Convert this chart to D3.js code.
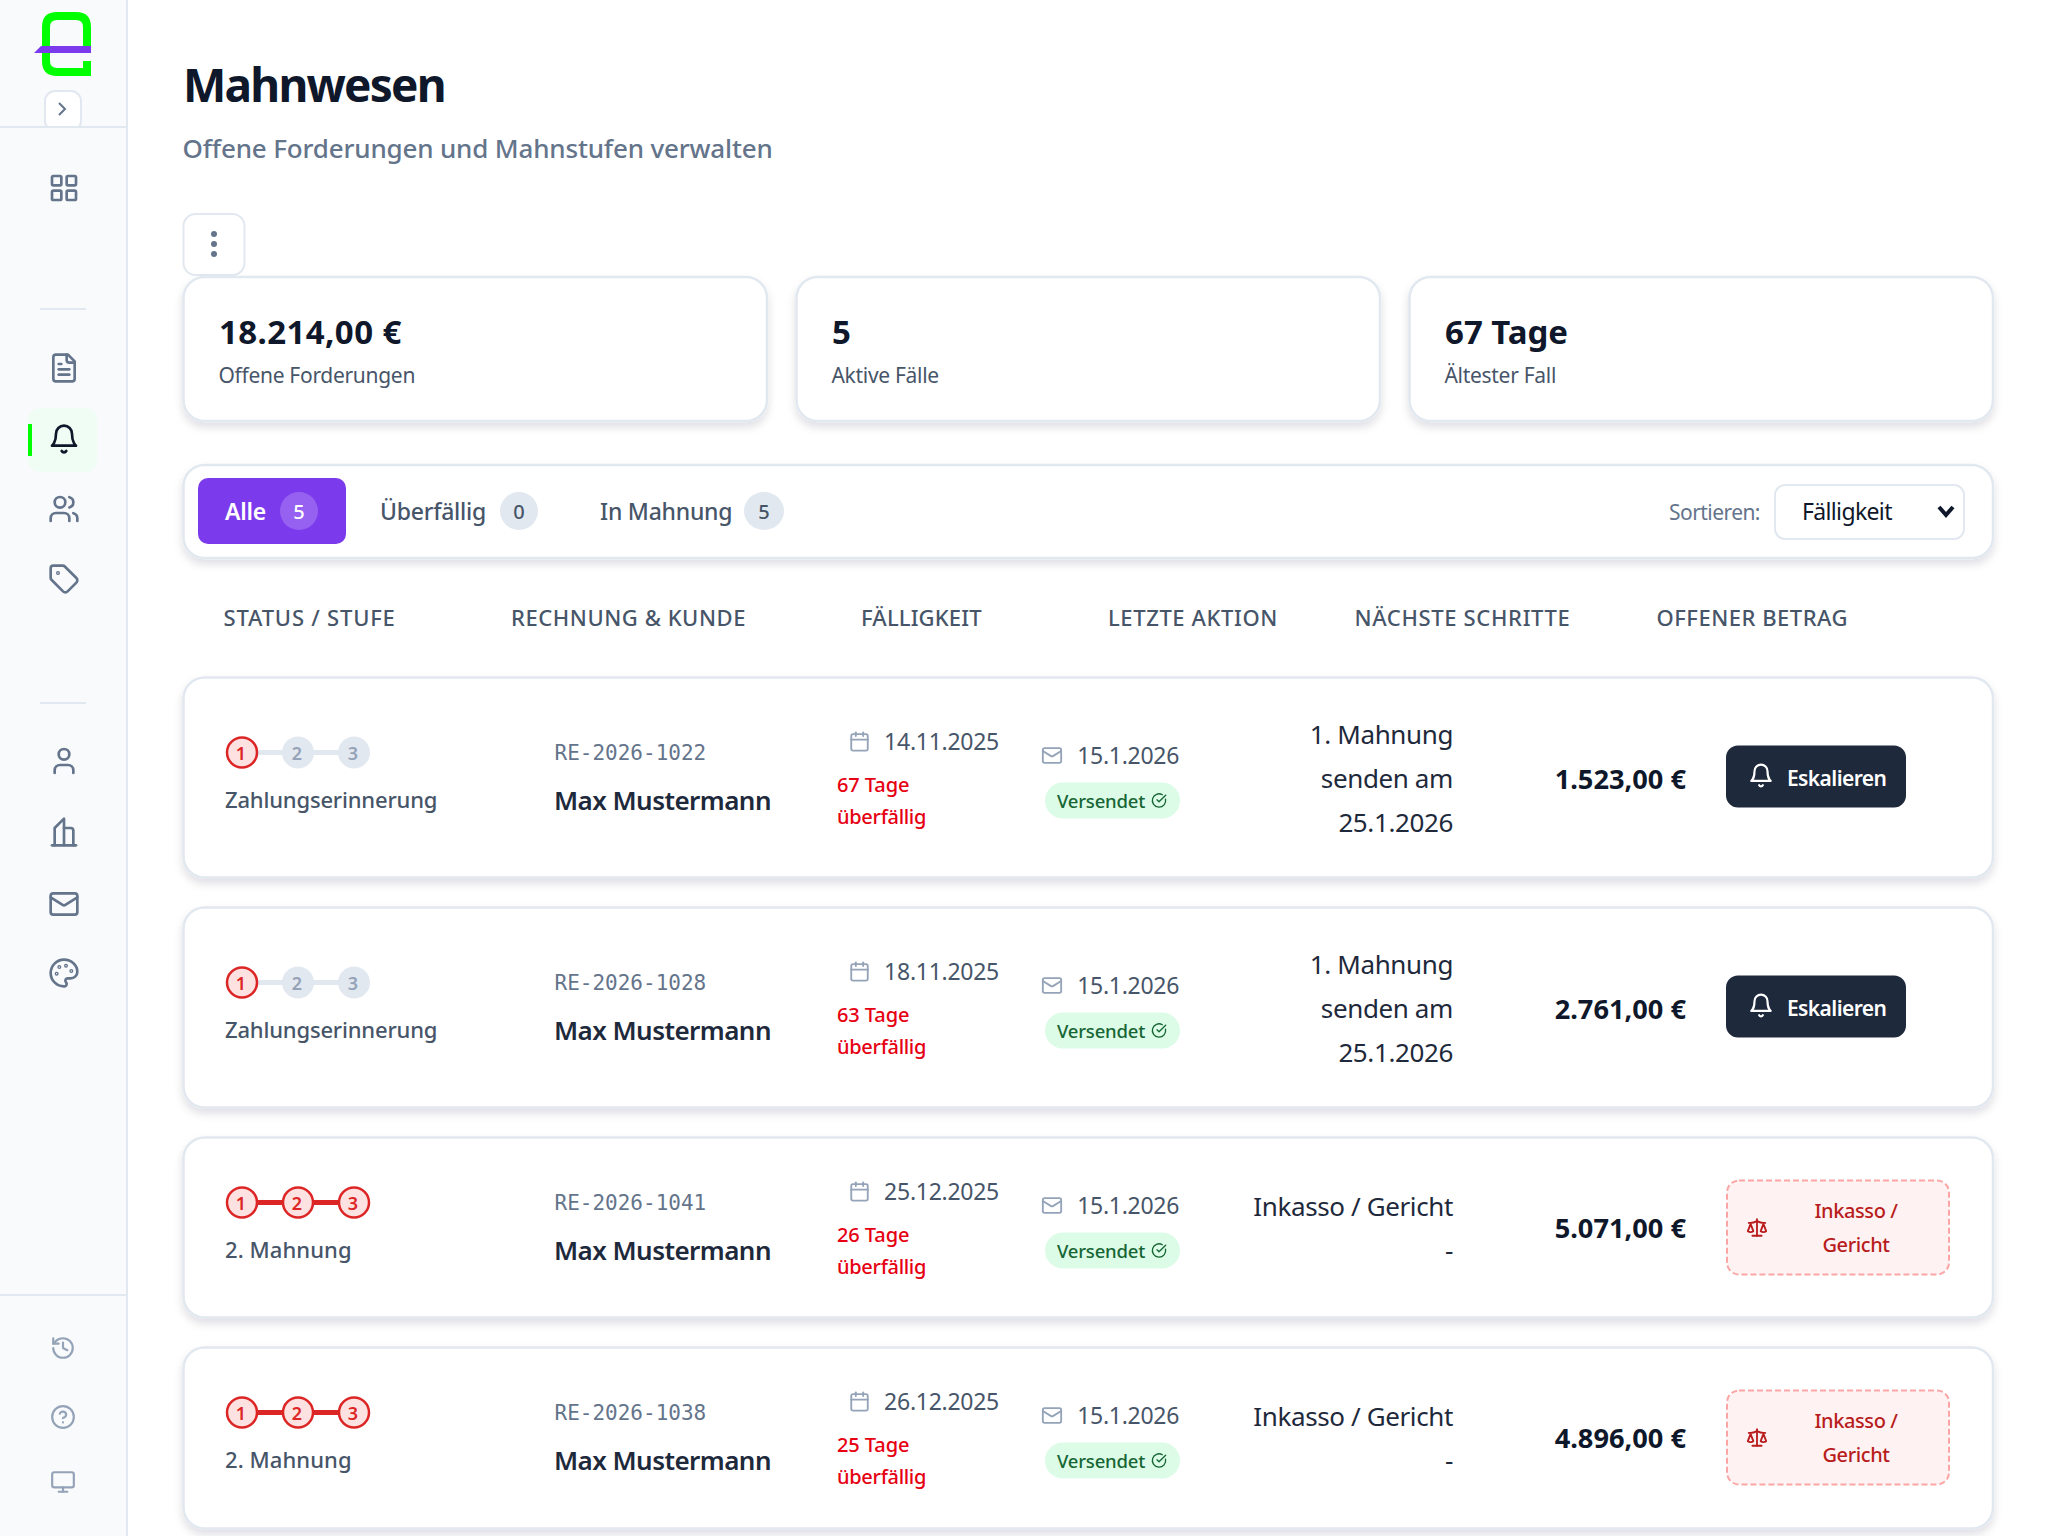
<!DOCTYPE html>
<html>
<head>
<meta charset="utf-8">
<script src="https://cdn.jsdelivr.net/npm/d3@7/dist/d3.min.js"></script>
<style>
  html, body { margin: 0; padding: 0; background: #fff; }
  svg { display: block; font-family: "Noto Sans", sans-serif; }
</style>
</head>
<body>
<script>
// page text and values
var title = "Mahnwesen";
var subtitle = "Offene Forderungen und Mahnstufen verwalten";
var kpiValues = ["18.214,00 €", "5", "67 Tage"];
var kpiLabels = ["Offene Forderungen", "Aktive Fälle", "Ältester Fall"];
var tabLabels = ["Alle", "Überfällig", "In Mahnung"];
var tabCounts = [5, 0, 5];
var columns = ["STATUS / STUFE", "RECHNUNG & KUNDE", "FÄLLIGKEIT", "LETZTE AKTION", "NÄCHSTE SCHRITTE", "OFFENER BETRAG"];

// one entry per case
var stageSteps = [1, 1, 3, 3];
var stageLabels = ["Zahlungserinnerung", "Zahlungserinnerung", "2. Mahnung", "2. Mahnung"];
var invoices = ["RE-2026-1022", "RE-2026-1028", "RE-2026-1041", "RE-2026-1038"];
var customers = ["Max Mustermann", "Max Mustermann", "Max Mustermann", "Max Mustermann"];
var dueDates = ["14.11.2025", "18.11.2025", "25.12.2025", "26.12.2025"];
var overdueDays = [67, 63, 26, 25];
var lastActions = ["15.1.2026", "15.1.2026", "15.1.2026", "15.1.2026"];
var nextSteps = [
  ["1. Mahnung", "senden am", "25.1.2026"],
  ["1. Mahnung", "senden am", "25.1.2026"],
  ["Inkasso / Gericht", "-"],
  ["Inkasso / Gericht", "-"]
];
var amounts = ["1.523,00 €", "2.761,00 €", "5.071,00 €", "4.896,00 €"];

var icons = {
  grid: ["R3,3,7,7,1", "R14,3,7,7,1", "R14,14,7,7,1", "R3,14,7,7,1"],
  doc: ["M15 2H6a2 2 0 0 0-2 2v16a2 2 0 0 0 2 2h12a2 2 0 0 0 2-2V7Z", "M14 2v4a2 2 0 0 0 2 2h4", "M10 9H8", "M16 13H8", "M16 17H8"],
  bell: ["M6 8a6 6 0 0 1 12 0c0 7 3 9 3 9H3s3-2 3-9", "M10.3 21a1.94 1.94 0 0 0 3.4 0"],
  users: ["M16 21v-2a4 4 0 0 0-4-4H6a4 4 0 0 0-4 4v2", "C9,7,4", "M22 21v-2a4 4 0 0 0-3-3.87", "M16 3.13a4 4 0 0 1 0 7.75"],
  tag: ["M12.586 2.586A2 2 0 0 0 11.172 2H4a2 2 0 0 0-2 2v7.172a2 2 0 0 0 .586 1.414l8.704 8.704a2.426 2.426 0 0 0 3.42 0l6.58-6.58a2.426 2.426 0 0 0 0-3.42z", "C7.5,7.5,.5"],
  user: ["M19 21v-2a4 4 0 0 0-4-4H9a4 4 0 0 0-4 4v2", "C12,7,4"],
  building: ["M3 22h18", "M5 22V9l7-7v20", "M12 9h5a2 2 0 0 1 2 2v11"],
  mail: ["R2,4,20,16,2", "m22 7-8.97 5.7a1.94 1.94 0 0 1-2.06 0L2 7"],
  palette: ["M12 22a1 1 0 0 1 0-20 10 9 0 0 1 10 9 5 5 0 0 1-5 5h-2.25a1.75 1.75 0 0 0-1.4 2.8l.3.4a1.75 1.75 0 0 1-1.4 2.8z", "C13.5,6.5,.5", "C17.5,10.5,.5", "C6.5,12.5,.5", "C8.5,7.5,.5"],
  history: ["M3 12a9 9 0 1 0 9-9 9.75 9.75 0 0 0-6.74 2.74L3 8", "M3 3v5h5", "M12 7v5l4 2"],
  help: ["C12,12,10", "M9.09 9a3 3 0 0 1 5.83 1c0 2-3 3-3 3", "M12 17h.01"],
  monitor: ["R2,3,20,14,2", "M8 21h8", "M12 17v4"],
  calendar: ["M8 2v4", "M16 2v4", "R3,4,18,18,2", "M3 10h18"],
  check: ["M21.801 10A10 10 0 1 1 17 3.335", "m9 11 3 3L22 4"],
  scale: ["m16 16 3-8 3 8c-.87.65-1.92 1-3 1s-2.13-.35-3-1Z", "m2 16 3-8 3 8c-.87.65-1.92 1-3 1s-2.13-.35-3-1Z", "M7 21h10", "M12 3v18", "M3 7h2c2 0 5-1 7-2 2 1 5 2 7 2h2"]
};

var navTop = ["grid", "doc", "bell", "users", "tag", "user", "building", "mail", "palette"];
var navTopY = [188, 368, 439, 509, 579, 761, 832, 904, 973];
var navBottom = ["history", "help", "monitor"];
var navBottomY = [1348, 1417, 1482];

var w = 2048, h = 1536;
var svg = d3.select("body").append("svg").attr("width", w).attr("height", h);

var defs = svg.append("defs");
var shadow = defs.append("filter").attr("id", "shadow")
  .attr("x", "-5%").attr("y", "-10%").attr("width", "110%").attr("height", "130%");
shadow.append("feDropShadow").attr("dx", 0).attr("dy", 5).attr("stdDeviation", 4)
  .attr("flood-color", "#0f172a").attr("flood-opacity", 0.13);

function icon(parent, name, cx, cy, size, color, sw) {
  var g = parent.append("g")
    .attr("transform", "translate(" + (cx - size / 2) + "," + (cy - size / 2) + ") scale(" + size / 24 + ")")
    .attr("fill", "none").attr("stroke", color).attr("stroke-width", sw)
    .attr("stroke-linecap", "round").attr("stroke-linejoin", "round");
  icons[name].forEach(function (s) {
    var p = s.slice(1).split(",").map(Number);
    if (s[0] == "R") {
      g.append("rect").attr("x", p[0]).attr("y", p[1]).attr("width", p[2]).attr("height", p[3]).attr("rx", p[4]);
    } else if (s[0] == "C") {
      g.append("circle").attr("cx", p[0]).attr("cy", p[1]).attr("r", p[2]);
    } else {
      g.append("path").attr("d", s);
    }
  });
}

function label(parent, str, x, y, size, weight, color, anchor, spacing) {
  return parent.append("text").attr("x", x).attr("y", y)
    .attr("font-size", size).attr("font-weight", weight).attr("fill", color)
    .attr("text-anchor", anchor || "start").attr("letter-spacing", spacing || 0).text(str);
}

function card(parent, x, y, cw, ch) {
  return parent.append("rect").attr("x", x).attr("y", y).attr("width", cw).attr("height", ch).attr("rx", 21)
    .attr("fill", "#fff").attr("stroke", "#e2e8f0").attr("stroke-width", 2.5).attr("filter", "url(#shadow)");
}

// sidebar
var side = svg.append("g");
side.append("rect").attr("width", 127).attr("height", h).attr("fill", "#f8fafc");
side.append("line").attr("x1", 127).attr("x2", 127).attr("y1", 0).attr("y2", h).attr("stroke", "#e2e8f0").attr("stroke-width", 2);
side.append("path").attr("d", "M87 61V72H57Q46 72 46 61V27Q46 16 57 16H76Q87 16 87 27V49")
  .attr("fill", "none").attr("stroke", "#00ff00").attr("stroke-width", 8);
side.append("path").attr("d", "M41 46H91V53H34Z").attr("fill", "#7c3aed");
side.append("rect").attr("x", 45).attr("y", 91).attr("width", 36).attr("height", 40).attr("rx", 10)
  .attr("fill", "#fff").attr("stroke", "#e2e8f0").attr("stroke-width", 2);
side.append("rect").attr("x", 0).attr("y", 127).attr("width", 126).attr("height", 8).attr("fill", "#f8fafc");
side.append("line").attr("x1", 0).attr("x2", 126).attr("y1", 127).attr("y2", 127).attr("stroke", "#e2e8f0").attr("stroke-width", 2);
side.append("path").attr("d", "M59 103L65 109L59 115").attr("fill", "none").attr("stroke", "#64748b").attr("stroke-width", 2);
[309, 703].forEach(function (y) {
  side.append("line").attr("x1", 40).attr("x2", 86).attr("y1", y).attr("y2", y).attr("stroke", "#e2e8f0").attr("stroke-width", 2);
});
side.append("line").attr("x1", 0).attr("x2", 126).attr("y1", 1295).attr("y2", 1295).attr("stroke", "#e2e8f0").attr("stroke-width", 2);
side.append("rect").attr("x", 28).attr("y", 408).attr("width", 69).attr("height", 64).attr("rx", 12).attr("fill", "#f0fdf4");
side.append("rect").attr("x", 28).attr("y", 424).attr("width", 4).attr("height", 32).attr("fill", "#00ff00");
navTop.forEach(function (n, i) {
  icon(side, n, 64, navTopY[i], 32, n == "bell" ? "#0f172a" : "#64748b", 2);
});
navBottom.forEach(function (n, i) {
  icon(side, n, 63, navBottomY[i], 26, "#94a3b8", 2);
});

// header
var main = svg.append("g");
label(main, title, 183, 102, 46, 700, "#0f172a", "start", -1.8);
label(main, subtitle, 182.5, 158, 26, 500, "#64748b", "start", -0.17);
main.append("rect").attr("x", 183.5).attr("y", 214).attr("width", 61).attr("height", 61).attr("rx", 12)
  .attr("fill", "#fff").attr("stroke", "#e2e8f0").attr("stroke-width", 2);
main.selectAll("circle.dot").data([234, 244, 254]).enter().append("circle").attr("class", "dot")
  .attr("cx", 214).attr("cy", function (d) { return d; }).attr("r", 3).attr("fill", "#64748b");

// kpi cards
var kpiX = d3.scaleBand().domain(d3.range(kpiValues.length)).range([183.5, 1993 + 29.5]);
kpiValues.forEach(function (v, i) {
  var x = kpiX(i);
  card(main, x, 277, kpiX.bandwidth() - 29.5, 144);
  label(main, v, x + 35.5, 344, 33, 700, "#0f172a", "start", i == 0 ? 0.4 : 0);
  label(main, kpiLabels[i], x + 35, 383, 21, 400, "#475569", "start", -0.3);
});

// filter bar
card(main, 183.5, 465, 1809.5, 93);
main.append("rect").attr("x", 198).attr("y", 478).attr("width", 148).attr("height", 66).attr("rx", 10).attr("fill", "#7c3aed");
var tabX = [225, 380, 600], badgeX = [299, 519, 764];
tabLabels.forEach(function (t, i) {
  label(main, t, tabX[i], 520, 23, i == 0 ? 600 : 500, i == 0 ? "#fff" : "#475569", "start", -0.25);
  main.append("ellipse").attr("cx", badgeX[i]).attr("cy", 511).attr("rx", i == 2 ? 20 : 19).attr("ry", 19)
    .attr("fill", i == 0 ? "rgba(255,255,255,0.2)" : "#e2e8f0");
  label(main, tabCounts[i], badgeX[i], 519, 20, 500, i == 0 ? "#fff" : "#475569", "middle");
});
label(main, "Sortieren:", 1669, 520, 21, 400, "#64748b", "start", -0.55);
main.append("rect").attr("x", 1775).attr("y", 485).attr("width", 189).attr("height", 54).attr("rx", 10)
  .attr("fill", "#fff").attr("stroke", "#e2e8f0").attr("stroke-width", 2);
label(main, "Fälligkeit", 1802, 520, 23, 400, "#0f172a", "start", -0.65);
main.append("path").attr("d", "M1939 507L1946 515L1953 507").attr("fill", "none").attr("stroke", "#0f172a")
  .attr("stroke-width", 4);

// table head
var colX = d3.scaleOrdinal().domain(columns).range([223.5, 511, 861, 1108, 1354.5, 1656.5]);
var colSpacing = [0.8, 0.55, 0.15, 0.6, 0.65, 0.5];
columns.forEach(function (c, i) {
  label(main, c, colX(c), 626, 22, 500, "#475569", "start", colSpacing[i]);
});

// case rows
var rowHeights = [200, 200, 180, 181], rowGap = 30, rowStart = 677.5;
var rowTops = rowHeights.map(function (d, i) { return rowStart + d3.sum(rowHeights.slice(0, i)) + i * rowGap; });
var stepX = d3.scalePoint().domain([1, 2, 3]).range([242, 354]);

invoices.forEach(function (inv, i) {
  var t = rowTops[i];
  var up = nextSteps[i].length == 3 ? 0 : 10;   // shorter rows sit tighter
  var row = main.append("g").attr("class", "row");
  card(row, 183.5, t, 1809.5, rowHeights[i]);

  // reminder stepper
  var sy = t + 75 - up;
  row.append("line").attr("x1", stepX(1)).attr("x2", stepX(3)).attr("y1", sy).attr("y2", sy)
    .attr("stroke", stageSteps[i] > 1 ? "#dc2626" : "#e2e8f0").attr("stroke-width", 5);
  stepX.domain().forEach(function (s) {
    var on = s <= stageSteps[i];
    row.append("circle").attr("cx", stepX(s)).attr("cy", sy).attr("r", on ? 15 : 16)
      .attr("fill", on ? "#fee2e2" : "#e2e8f0").attr("stroke", on ? "#dc2626" : "none").attr("stroke-width", 2.5);
    label(row, s, stepX(s) - 1, sy + 7, 18, 600, on ? "#dc2626" : "#94a3b8", "middle");
  });
  label(row, stageLabels[i], 225, t + 130 - up, 22, 500, "#475569", "start", up ? 0.08 : -0.18);

  // invoice and customer
  label(row, inv, 554.5, t + 82 - up, 21, 400, "#64748b").attr("font-family", "DejaVu Sans Mono");
  label(row, customers[i], 554, t + 132 - up, 26, 600, "#1e293b", "start", -0.55);

  // due date
  icon(row, "calendar", 859.5, t + 64 - up, 22, "#94a3b8", 2);
  label(row, dueDates[i], 999, t + (up ? 62.5 : 72.5), 23, 400, "#475569", "end", -0.27);
  label(row, overdueDays[i] + " Tage", 837, t + 114 - up, 20, 500, "#e60012", "start", -0.1);
  label(row, "überfällig", 837, t + 146 - up, 20, 500, "#e60012", "start", -0.3);

  // last action
  icon(row, "mail", 1052, t + 78 - up, 22, "#94a3b8", 2);
  label(row, lastActions[i], 1179, t + 86 - up, 23, 400, "#475569", "end", -0.3);
  row.append("rect").attr("x", 1045).attr("y", t + 105 - up).attr("width", 135).attr("height", 36).attr("rx", 18).attr("fill", "#dcfce7");
  label(row, "Versendet", 1057, t + 130 - up, 18.5, 500, "#166534", "start", -0.2);
  icon(row, "check", 1159, t + 123 - up, 16, "#166534", 2);

  // next step, right aligned
  nextSteps[i].forEach(function (s, j) {
    label(row, s, 1453, t + (up ? 78 : 66.5) + j * 44, 26, 400, "#1e293b", "end", -0.38);
  });

  // amount
  label(row, amounts[i], 1686, t + (up ? 100.5 : 111), 27.2, 700, "#0f172a", "end");

  // action
  if (up == 0) {
    row.append("rect").attr("x", 1726).attr("y", t + 68).attr("width", 180).attr("height", 62).attr("rx", 12).attr("fill", "#1e293b");
    icon(row, "bell", 1761, t + 98, 26, "#fff", 2);
    label(row, "Eskalieren", 1787, t + 108, 21, 600, "#fff", "start", -0.6);
  } else {
    row.append("rect").attr("x", 1727).attr("y", t + 43).attr("width", 222).attr("height", 94).attr("rx", 12)
      .attr("fill", "#fef2f2").attr("stroke", "#fca5a5").attr("stroke-width", 2).attr("stroke-dasharray", "6 3");
    icon(row, "scale", 1757, t + 90, 22, "#b91c1c", 2);
    label(row, "Inkasso /", 1856, t + 80.5, 20, 500, "#b91c1c", "middle", -0.4);
    label(row, "Gericht", 1856, t + 114.5, 20, 500, "#b91c1c", "middle", -0.4);
  }
});
</script>
</body>
</html>
